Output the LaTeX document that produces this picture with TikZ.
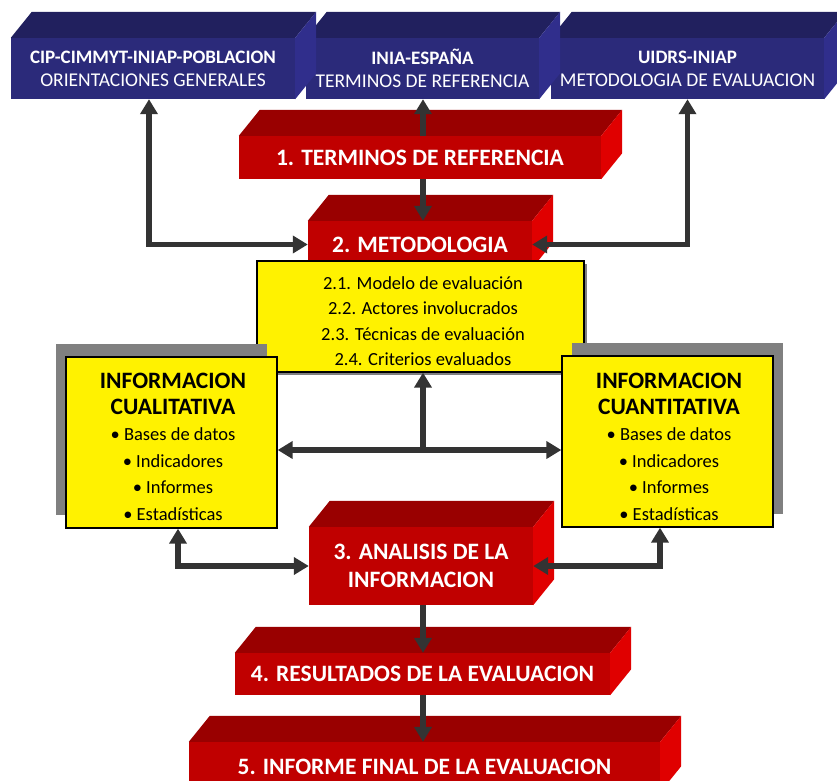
\documentclass[tikz,border=0pt]{standalone}
\usepackage{fontspec}
\setmainfont{Carlito}
\usetikzlibrary{arrows.meta,shadows,calc}
\definecolor{bluefront}{RGB}{43,42,122}
\definecolor{bluetop}{RGB}{33,32,94}
\definecolor{blueside}{RGB}{48,46,140}
\definecolor{redfront}{RGB}{192,0,0}
\definecolor{redtop}{RGB}{153,0,0}
\definecolor{redside}{RGB}{224,0,0}
\definecolor{arrowgray}{RGB}{51,51,51}
\definecolor{shadowgray}{RGB}{128,128,128}
% top and right faces of a block, drawn from its front node
\newcommand{\blockfaces}[3]{%
\fill[#2] (#1.north west) -- ++(21,-26) -- ($(#1.north east)+(21,-26)$) -- (#1.north east) -- cycle;
\fill[#3] (#1.north east) -- ++(21,-26) -- ($(#1.south east)+(21,-26)$) -- (#1.south east) -- cycle;}

\begin{document}
\begin{tikzpicture}
[x=1pt,y=-1pt,
front/.style={rectangle,inner sep=0pt,align=center,text=white},
bluebox/.style={front,fill=bluefront,minimum height=61pt,font=\fontsize{19.5}{23}\selectfont},
redbox/.style={front,fill=redfront,font=\fontsize{23.5}{28}\selectfont\bfseries},
infobox/.style={rectangle,draw=black,line width=1.3pt,fill=yellow,inner sep=0pt},
infotext/.style={align=center,inner sep=0pt,font=\fontsize{18.5}{25.5}\selectfont},
link/.style={draw=arrowgray,line width=5.5pt,>={Triangle[width=17pt,length=15pt]}}]
\useasboundingbox (0,0) rectangle (837,780);
\clip (0,0) rectangle (837,780);
%%
% sources
%%
\node at (687.5,68.5) (uidrs) [bluebox,minimum width=273pt]
{{\fontsize{19}{23}\selectfont\bfseries UIDRS-INIAP}\\METODOLOGIA DE EVALUACION};
\blockfaces{uidrs}{bluetop}{blueside}
\node at (422.5,68.5) (inia) [bluebox,minimum width=233pt]
{{\fontsize{19}{23}\selectfont\bfseries INIA-ESPAÑA}\\TERMINOS DE REFERENCIA};
\blockfaces{inia}{bluetop}{blueside}
\node at (153,68.5) (cip) [bluebox,minimum width=284pt]
{{\fontsize{19}{23}\selectfont\bfseries CIP-CIMMYT-INIAP-POBLACION}\\ORIENTACIONES GENERALES};
\blockfaces{cip}{bluetop}{blueside}
%%
% steps 1 and 2
%%
\node at (420,157.5) (t1) [redbox,minimum width=362pt,minimum height=43pt] {1. TERMINOS DE REFERENCIA};
\blockfaces{t1}{redtop}{redside}
\node at (420,244.5) (met) [redbox,minimum width=224pt,minimum height=47pt] {2. METODOLOGIA};
\blockfaces{met}{redtop}{redside}
\node at (420.5,316.5) (det) [infobox,minimum width=327pt,minimum height=111pt,
  drop shadow={shadow xshift=3pt,shadow yshift=-3pt,fill=shadowgray,opacity=1}] {};
\node at (423,321) (det-items) [infotext]
{2.1. Modelo de evaluación\\2.2. Actores involucrados\\2.3. Técnicas de evaluación\\2.4. Criterios evaluados};
%%
% information
%%
\node at (171.5,442.5) (qual) [infobox,minimum width=211pt,minimum height=171pt,
  drop shadow={shadow xshift=-10pt,shadow yshift=13pt,fill=shadowgray,opacity=1}] {};
\node at (173,446.5) (qual-items) [infotext,font=\fontsize{18.5}{26.4}\selectfont]
{{\fontsize{23.5}{26.4}\selectfont\bfseries INFORMACION}\\{\fontsize{23.5}{26.4}\selectfont\bfseries CUALITATIVA}\\
• Bases de datos\\• Indicadores\\• Informes\\• Estadísticas};
\node at (667.5,441.5) (quan) [infobox,minimum width=211pt,minimum height=171pt,
  drop shadow={shadow xshift=10pt,shadow yshift=13pt,fill=shadowgray,opacity=1}] {};
\node at (669,446.5) (quan-items) [infotext,font=\fontsize{18.5}{26.4}\selectfont]
{{\fontsize{23.5}{26.4}\selectfont\bfseries INFORMACION}\\{\fontsize{23.5}{26.4}\selectfont\bfseries CUANTITATIVA}\\
• Bases de datos\\• Indicadores\\• Informes\\• Estadísticas};
%%
% steps 3 to 5
%%
\node at (421,566) (ana) [redbox,minimum width=224pt,minimum height=78pt] {3. ANALISIS DE LA\\INFORMACION};
\blockfaces{ana}{redtop}{redside}
\node at (422.5,674) (res) [redbox,minimum width=375pt,minimum height=42pt] {4. RESULTADOS DE LA EVALUACION};
\blockfaces{res}{redtop}{redside}
\node at (424.5,767) (fin) [redbox,minimum width=471pt,minimum height=50pt] {5. INFORME FINAL DE LA EVALUACION};
\blockfaces{fin}{redtop}{redside}
%%
% connectors
%%
\coordinate (ax) at (423,0);
\coordinate (cx) at (149,0);
\coordinate (lx) at (178,0);
\coordinate (rx) at (660,0);
\coordinate (hy) at (0,450);
\draw[link,<->] (cip.south -| cx) |- (met.west);
\draw[link,<->] (uidrs.south) |- (met.east);
\draw[link,->] (t1.north -| ax) -- (inia.south -| ax);
\draw[link,->] (t1.south -| ax) -- (met.north -| ax);
\draw[link,<->] (qual.east |- hy) -- (quan.west |- hy);
\draw[link,->] (ax |- hy) -- (det.south -| ax);
\draw[link,<->] (qual.south -| lx) |- (ana.west);
\draw[link,<->] (quan.south -| rx) |- (ana.east);
\draw[link,->] (ana.south -| ax) -- (res.north -| ax);
\draw[link,->] (res.south -| ax) -- (fin.north -| ax);
\end{tikzpicture}
\end{document}
